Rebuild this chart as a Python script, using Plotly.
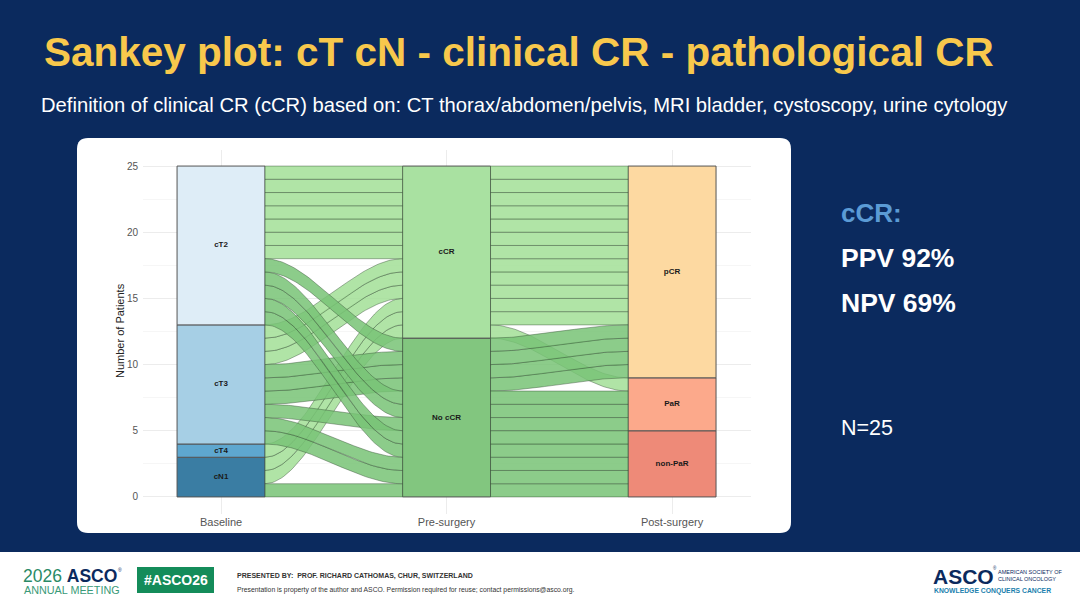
import plotly.graph_objects as go
import numpy as np

W, H = 1080, 608

# ---------------- data ----------------
axis_names = ["Baseline", "Pre-surgery", "Post-surgery"]
baseline_levels = ["cT2", "cT3", "cT4", "cN1"]      # top -> bottom
pre_levels = ["cCR", "No cCR"]
post_levels = ["pCR", "PaR", "non-PaR"]

combo_baseline = ["cT2", "cT2", "cT2", "cT2", "cT3", "cT3", "cT3", "cT3", "cT4", "cN1", "cN1", "cN1"]
combo_pre = ["cCR", "No cCR", "No cCR", "No cCR", "cCR", "No cCR", "No cCR", "No cCR", "cCR", "cCR", "cCR", "No cCR"]
combo_post = ["pCR", "pCR", "PaR", "non-PaR", "pCR", "pCR", "PaR", "non-PaR", "pCR", "PaR", "pCR", "non-PaR"]
combo_count = [7, 1, 2, 2, 3, 3, 1, 2, 1, 1, 1, 1]

y_ticks = [0, 5, 10, 15, 20, 25]

# ---------------- styles ----------------
NAVY = "#0b2a5e"
strata_colors = {
    "cT2": "#deedf7", "cT3": "#a6cfe5", "cT4": "#5ea7cf", "cN1": "#3a7da3",
    "cCR": "#a9e1a1", "No cCR": "#82c67f",
    "pCR": "#fdd9a1", "PaR": "#fca98b", "non-PaR": "#ee8a78",
}
flow_colors = {"cCR": "rgba(162,223,150,0.85)", "No cCR": "rgba(120,195,117,0.85)"}
BW = 0.39


def rank(levels, v):
    return len(levels) - 1 - levels.index(v)


patients = []
for b, p, q, n in zip(combo_baseline, combo_pre, combo_post, combo_count):
    for _ in range(n):
        patients.append({"b": b, "p": p, "q": q,
                         "br": rank(baseline_levels, b),
                         "pr": rank(pre_levels, p),
                         "qr": rank(post_levels, q)})
idx = list(range(len(patients)))
for k, i in enumerate(sorted(idx, key=lambda i: (patients[i]["br"], patients[i]["pr"], patients[i]["qr"], i))):
    patients[i]["y0"] = k
for k, i in enumerate(sorted(idx, key=lambda i: (patients[i]["pr"], patients[i]["qr"], patients[i]["br"], patients[i]["y0"]))):
    patients[i]["y1"] = k
for k, i in enumerate(sorted(idx, key=lambda i: (patients[i]["qr"], patients[i]["pr"], patients[i]["y1"]))):
    patients[i]["y2"] = k

fig = go.Figure()

t = np.linspace(0, 1, 60)
s = t * t * (3 - 2 * t)


def add_flow(xa, xb, ya, yb, color):
    xs = xa + (xb - xa) * t
    lo = ya + (yb - ya) * s
    hi = lo + 1
    fig.add_trace(go.Scatter(
        x=np.concatenate([xs, xs[::-1], xs[:1]]),
        y=np.concatenate([lo, hi[::-1], lo[:1]]),
        fill="toself", fillcolor=color, mode="lines",
        line=dict(color="rgba(50,75,50,0.7)", width=0.6),
        hoverinfo="skip", showlegend=False))


# light (cCR) flows first, darker (No cCR) flows drawn on top
order = sorted(idx, key=lambda i: (-patients[i]["pr"], patients[i]["y0"]))
for i in order:
    pt = patients[i]
    add_flow(1 + BW / 2, 2 - BW / 2, pt["y0"], pt["y1"], flow_colors[pt["p"]])
for i in order:
    pt = patients[i]
    add_flow(2 + BW / 2, 3 - BW / 2, pt["y1"], pt["y2"], flow_colors[pt["p"]])

# strata
for ax_i, (levels, key) in enumerate([(baseline_levels, "b"), (pre_levels, "p"), (post_levels, "q")]):
    lv_bottom_up = levels[::-1]
    counts = [sum(1 for pt in patients if pt[key] == lv) for lv in lv_bottom_up]
    bases = list(np.cumsum([0] + counts[:-1]))
    xpos = ax_i + 1
    fig.add_trace(go.Bar(
        x=[xpos] * len(counts), y=counts, base=bases, width=BW,
        marker=dict(color=[strata_colors[lv] for lv in lv_bottom_up],
                    line=dict(color="#555555", width=1)),
        hoverinfo="skip", showlegend=False))
    fig.add_trace(go.Scatter(
        x=[xpos] * len(counts), y=[b + c / 2 for b, c in zip(bases, counts)],
        text=["<b>%s</b>" % lv for lv in lv_bottom_up], mode="text",
        textfont=dict(family="Liberation Sans, Arial", size=8, color="#1a1a1a"),
        hoverinfo="skip", showlegend=False))


def px(x):
    return x / W


def py(y):
    return 1 - y / H


# decorative panel + footer
r = 11
x0, x1, y0, y1 = 77, 791, 138, 533
path = ("M {a},{b} L {c},{b} Q {x1},{b} {x1},{d} L {x1},{e} Q {x1},{y1} {c},{y1} "
        "L {a},{y1} Q {x0},{y1} {x0},{e} L {x0},{d} Q {x0},{b} {a},{b} Z").format(
    a=px(x0 + r), b=py(y0), c=px(x1 - r), d=py(y0 + r), e=py(y1 - r),
    x0=px(x0), x1=px(x1), y1=py(y1))
shapes = [
    dict(type="path", xref="paper", yref="paper", path=path, fillcolor="white", line=dict(width=0), layer="below"),
    dict(type="rect", xref="paper", yref="paper", x0=0, x1=1, y0=0, y1=py(552), fillcolor="white", line=dict(width=0), layer="below"),
    dict(type="rect", xref="paper", yref="paper", x0=px(137), x1=px(214), y0=py(593), y1=py(567), fillcolor="#148c5a", line=dict(width=0), layer="below"),
]

F = "Liberation Sans, Arial, sans-serif"
ann = []


def A(text, x, y, size, color, xanchor="left", bold=False, family=F, **kw):
    ann.append(dict(text=("<b>%s</b>" % text) if bold else text, x=px(x), y=py(y), xref="paper", yref="paper",
                    xanchor=xanchor, yanchor="middle", showarrow=False,
                    font=dict(size=size, color=color, family=family), **kw))


A("Sankey plot: cT cN - clinical CR - pathological CR", 42, 52, 40.5, "#f8c84c", bold=True)
A("Definition of clinical CR (cCR) based on: CT thorax/abdomen/pelvis, MRI bladder, cystoscopy, urine cytology",
  39, 105, 20.2, "white")
A("cCR:", 839, 213, 26, "#5b9bd5", bold=True)
A("PPV 92%", 839, 258, 26.5, "white", bold=True)
A("NPV 69%", 839, 303, 26.5, "white", bold=True)
A("N=25", 839, 428, 21.5, "white")
A("Number of Patients", 120, 331, 11, "#222222", xanchor="center", textangle=-90)

# footer
A("<span style='color:#2a8a66'>2026</span> <b>ASCO</b>", 21, 576, 17.5, NAVY)
A("®", 116, 570, 5, NAVY)
A("ANNUAL MEETING", 22, 590, 10.8, "#3a9a78")
A("#ASCO26", 175.5, 580, 14, "white", xanchor="center", bold=True)
A("PRESENTED BY:  PROF. RICHARD CATHOMAS, CHUR, SWITZERLAND", 235, 576, 7, "#333333", bold=True)
A("Presentation is property of the author and ASCO. Permission required for reuse; contact permissions@asco.org.",
  235, 590, 6.8, "#333333")
A("<b>ASCO</b>", 931, 576, 21, NAVY)
A("®", 991, 568, 4.5, NAVY)
A("AMERICAN SOCIETY OF", 996, 572, 5.5, NAVY)
A("CLINICAL ONCOLOGY", 996, 579, 5.5, NAVY)
A("<b>KNOWLEDGE CONQUERS CANCER</b>", 932, 591, 6.8, "#1b7fae")

fig.update_layout(
    width=W, height=H, autosize=False,
    margin=dict(l=0, r=0, t=0, b=0, pad=0),
    paper_bgcolor=NAVY, plot_bgcolor="rgba(0,0,0,0)",
    barmode="overlay", shapes=shapes, annotations=ann,
    font=dict(family=F),
    xaxis=dict(domain=[px(143), px(751)], range=[0.654, 3.35],
               tickvals=[1, 2, 3], ticktext=axis_names, showgrid=True, gridcolor="#ececec", gridwidth=1,
               zeroline=False, showline=False, ticks="",
               tickfont=dict(size=11, color="#555555"), automargin=False),
    yaxis=dict(domain=[py(513.5), py(149.5)], range=[-1.25, 26.25],
               tickvals=y_ticks, showgrid=True, gridcolor="#ececec", gridwidth=1,
               minor=dict(showgrid=True, gridcolor="#f6f6f6", dtick=2.5, tick0=0),
               zeroline=False, showline=False, ticks="", ticklabelstandoff=4,
               tickfont=dict(size=10, color="#555555"), automargin=False),
)

fig.write_html("out.html", config={"displayModeBar": False},
               post_script="document.body.style.margin='0px';")
